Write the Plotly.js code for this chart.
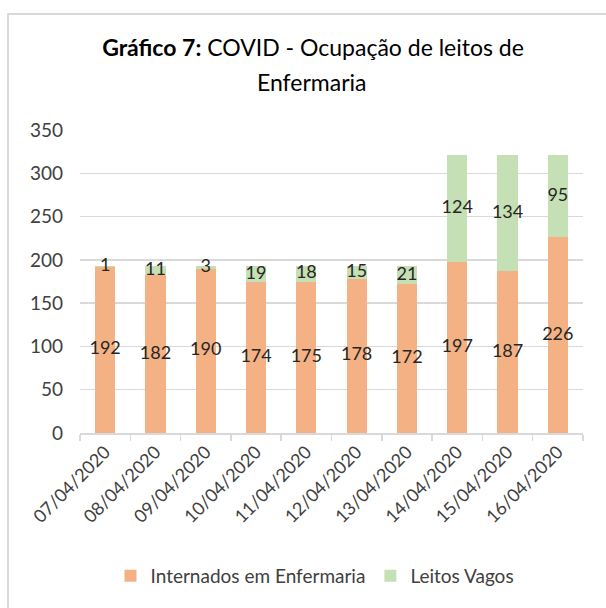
<!DOCTYPE html>
<html>
<head>
<meta charset="utf-8">
<script src="https://cdn.plot.ly/plotly-3.0.1.min.js"></script>
<style>
html,body{margin:0;padding:0;background:#fff;overflow:hidden;}
#wrap{position:relative;width:606px;height:608px;}
#chart{position:absolute;left:0;top:0;width:606px;height:608px;}
#frame{position:absolute;left:7px;top:13px;width:620px;height:700px;border:2px solid #D9D9D9;pointer-events:none;}
</style>
</head>
<body>
<div id="wrap"><div id="chart"></div><div id="frame"></div></div>
<script>
const categories = ['07/04/2020','08/04/2020','09/04/2020','10/04/2020','11/04/2020','12/04/2020','13/04/2020','14/04/2020','15/04/2020','16/04/2020'];
const internados = [192,182,190,174,175,178,172,197,187,226];
const vagos = [1,11,3,19,18,15,21,124,134,95];
const yTicks = [0,50,100,150,200,250,300,350];

const orange = '#F4B183', green = '#C5E0B4';
const fontFam = 'Lato, "Open Sans", sans-serif';

const midInt = internados.map(v => v / 2);
const midVag = internados.map((v, i) => v + vagos[i] / 2);

const traces = [
  {type:'bar', name:'Internados em Enfermaria', x:categories, y:internados, marker:{color:orange}, hoverinfo:'skip'},
  {type:'bar', name:'Leitos Vagos', x:categories, y:vagos, marker:{color:green}, hoverinfo:'skip'},
  {type:'scatter', mode:'text', x:categories, y:midInt, text:internados.map(String), textposition:'middle center',
   textfont:{family:fontFam, size:18, color:'#262626'}, showlegend:false, hoverinfo:'skip'},
  {type:'scatter', mode:'text', x:categories, y:midVag, text:vagos.map(String), textposition:'middle center',
   textfont:{family:fontFam, size:18, color:'#262626'}, showlegend:false, hoverinfo:'skip'}
];

const layout = {
  width:606, height:608,
  margin:{l:80, r:23, t:130, b:175},
  paper_bgcolor:'#fff', plot_bgcolor:'#fff',
  barmode:'stack', bargap:0.6,
  font:{family:fontFam, color:'#404040'},
  title:{text:'<b>Gráfico 7:</b> COVID - Ocupação de leitos de',
    font:{family:fontFam, size:23, color:'#000'}, x:313/606, xanchor:'center', xref:'container',
    y:1-48/608, yref:'container', yanchor:'middle'},
  annotations:[{text:'Enfermaria', xref:'paper', yref:'paper', x:(311-80)/503, y:(433-82)/303,
    xanchor:'center', yanchor:'middle', showarrow:false, font:{family:fontFam, size:23, color:'#000'}}],
  xaxis:{type:'category', showline:true, linecolor:'#D9D9D9', linewidth:1.5, ticks:'outside', tickson:'boundaries',
    ticklen:6, tickcolor:'#D9D9D9', tickwidth:1.5, tickangle:-45, tickfont:{family:fontFam, size:18, color:'#404040'},
    showgrid:false, zeroline:false, fixedrange:true},
  yaxis:{range:[0,350], tickvals:yTicks, ticktext:yTicks.map(String), showgrid:true, gridcolor:'#D9D9D9', gridwidth:1.3,
    showline:false, zeroline:false, ticks:'', tickfont:{family:fontFam, size:19, color:'#404040'}, ticklabelstandoff:16, fixedrange:true},
  showlegend:true,
  legend:{orientation:'h', x:(315-80)/503, xanchor:'center', y:(433-576)/303, yanchor:'middle',
    font:{family:fontFam, size:19, color:'#404040'}, traceorder:'normal', itemwidth:30}
};

Plotly.newPlot('chart', traces, layout, {displayModeBar:false, staticPlot:true});
</script>
</body>
</html>
